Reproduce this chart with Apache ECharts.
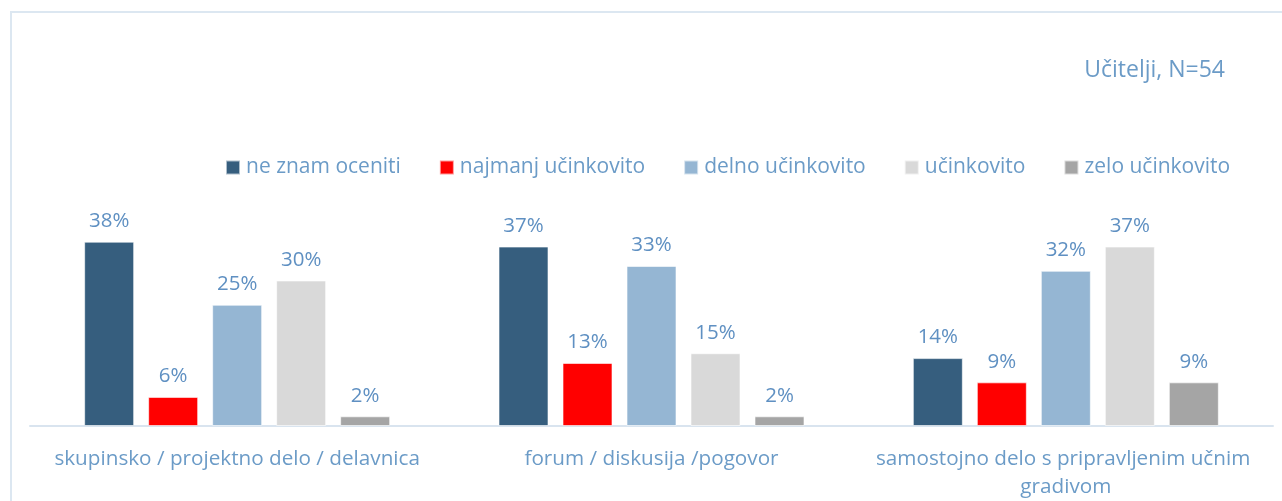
<!DOCTYPE html>
<html>
<head>
<meta charset="utf-8">
<script src="https://cdn.jsdelivr.net/npm/echarts@6/dist/echarts.min.js"></script>
<style>
  html, body { margin: 0; padding: 0; background: #ffffff; }
  #chart { width: 1282px; height: 501px; }
</style>
</head>
<body>
<div id="chart"></div>
<script>
// Methods of work and how effective teachers rated them (share of answers, %)
const categories = [
  'skupinsko / projektno delo / delavnica',
  'forum / diskusija /pogovor',
  'samostojno delo s pripravljenim učnim gradivom'
];
const seriesNames = ['ne znam oceniti', 'najmanj učinkovito', 'delno učinkovito', 'učinkovito', 'zelo učinkovito'];
const neZnamOceniti = [38, 37, 14];
const najmanjUcinkovito = [6, 13, 9];
const delnoUcinkovito = [25, 33, 32];
const ucinkovito = [30, 15, 37];
const zeloUcinkovito = [2, 2, 9];
const titleText = 'Učitelji, N=54';

const seriesValues = [neZnamOceniti, najmanjUcinkovito, delnoUcinkovito, ucinkovito, zeloUcinkovito];
const colors = ['#365e7e', '#ff0000', '#95b6d3', '#d9d9d9', '#a5a5a5'];
const FONT = 'Open Sans';
const TEXT_COLOR = '#6b9bc7';

const chart = echarts.init(document.getElementById('chart'), null, { renderer: 'canvas' });

chart.setOption({
  animation: false,
  backgroundColor: '#ffffff',
  textStyle: { fontFamily: FONT },
  graphic: [{
    type: 'rect',
    shape: { x: 11, y: 12, width: 1300, height: 520 },
    style: { fill: 'none', stroke: '#dce7f1', lineWidth: 2 },
    silent: true,
    z: -1
  }],
  title: {
    text: titleText,
    right: 52,
    top: 54,
    textStyle: { fontFamily: FONT, fontSize: 23, fontWeight: 'normal', color: TEXT_COLOR }
  },
  legend: {
    data: seriesNames,
    left: 220,
    top: 152,
    itemWidth: 14,
    itemHeight: 14,
    itemGap: 38,
    icon: 'rect',
    textStyle: { fontFamily: FONT, fontSize: 21, color: TEXT_COLOR, padding: [0, 0, 0, 1] }
  },
  grid: { left: 30, right: 9, top: 232, bottom: 74, containLabel: false },
  xAxis: {
    type: 'category',
    data: categories,
    axisLine: { lineStyle: { color: '#d9e4ef', width: 2 } },
    axisTick: { show: false },
    axisLabel: {
      fontFamily: FONT,
      fontSize: 20.7,
      color: TEXT_COLOR,
      margin: 19,
      width: 400,
      overflow: 'break',
      lineHeight: 28,
      interval: 0
    }
  },
  yAxis: {
    type: 'value',
    min: 0,
    max: 40,
    show: false,
    splitLine: { show: false }
  },
  series: seriesNames.map((name, i) => ({
    name: name,
    type: 'bar',
    data: seriesValues[i],
    barWidth: 50,
    barGap: '28%',
    itemStyle: { color: colors[i], borderColor: 'rgba(255,255,255,0.6)', borderWidth: 1 },
    label: {
      show: true,
      position: 'top',
      distance: 10,
      formatter: '{c}%',
      fontFamily: FONT,
      fontSize: 20.5,
      color: '#5f90c2'
    }
  }))
});
</script>
</body>
</html>
